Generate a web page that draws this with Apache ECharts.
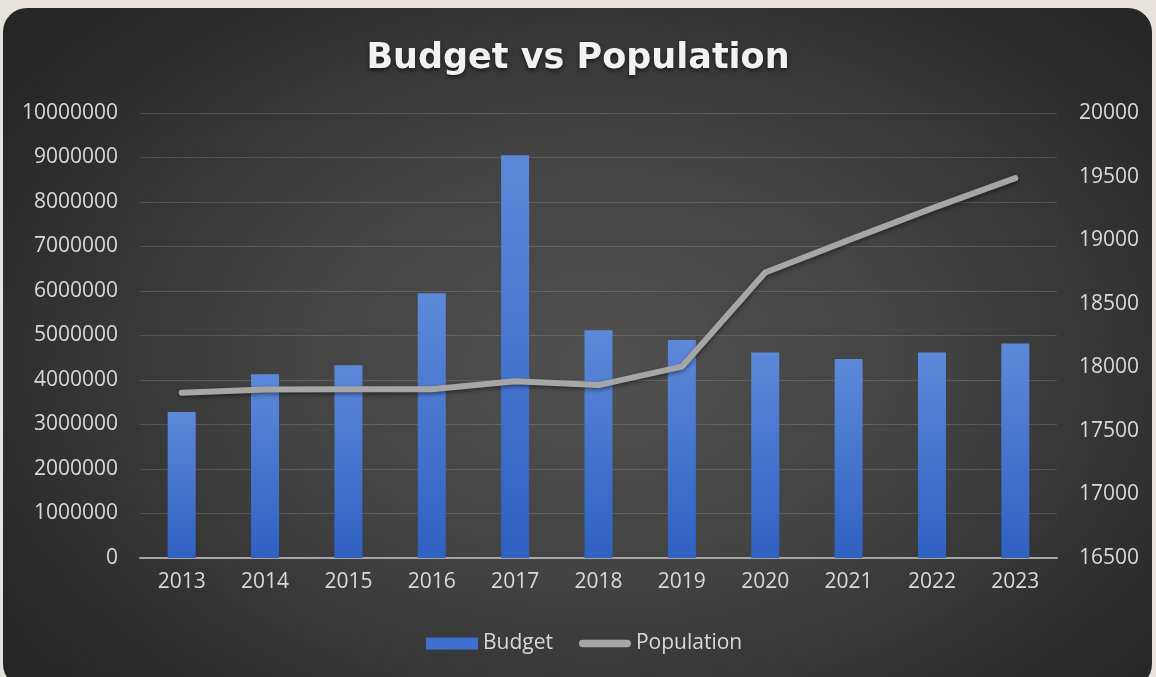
<!DOCTYPE html>
<html>
<head>
<meta charset="utf-8">
<script src="https://cdn.jsdelivr.net/npm/echarts@6/dist/echarts.min.js"></script>
<style>
  html, body { margin: 0; padding: 0; width: 1156px; height: 677px; overflow: hidden; background: #e7e3dc; }
  #card {
    position: absolute; left: 3px; top: 8px; width: 1149px; height: 680px;
    border-radius: 24px;
    background: radial-gradient(ellipse 62% 70% at 52% 52%, #505050 0%, #434343 45%, #2e2e2e 85%, #262626 100%);
  }
  #chart { position: absolute; left: 0; top: 0; width: 1156px; height: 677px; }
</style>
</head>
<body>
<div id="card"></div>
<div id="chart"></div>
<script>
// Yearly budget (left axis) and population (right axis)
const years = ['2013', '2014', '2015', '2016', '2017', '2018', '2019', '2020', '2021', '2022', '2023'];
const budget = [3280000, 4130000, 4330000, 5950000, 9050000, 5120000, 4900000, 4620000, 4470000, 4620000, 4820000];
const population = [17800, 17825, 17828, 17827, 17890, 17860, 18005, 18745, 19000, 19250, 19488];

const labelFont = { color: '#d9d9d9', fontSize: 21, fontFamily: 'Open Sans' };
const plain = v => String(v);

const chart = echarts.init(document.getElementById('chart'), null, { renderer: 'canvas' });
chart.setOption({
  backgroundColor: 'transparent',
  animation: false,
  title: {
    text: 'Budget vs Population',
    left: 'center',
    top: 36,
    textStyle: {
      color: '#f2f2f2', fontSize: 35, fontWeight: 'bold', fontFamily: 'DejaVu Sans',
      textShadowColor: 'rgba(0,0,0,0.6)', textShadowBlur: 4, textShadowOffsetY: 2
    }
  },
  legend: {
    bottom: 23,
    left: 426,
    padding: 0,
    itemGap: 26,
    itemWidth: 52,
    itemHeight: 12,
    textStyle: labelFont,
    data: [
      { name: 'Budget', icon: 'rect', itemStyle: { color: '#3f70d0' } },
      { name: 'Population', icon: 'path://M4,0 H52 A4,4 0 0 1 52,8 H4 A4,4 0 0 1 4,0 Z', itemStyle: { color: '#a6a6a6' } }
    ]
  },
  grid: { left: 140, right: 99, top: 113, bottom: 119, containLabel: false },
  xAxis: {
    type: 'category',
    data: years,
    axisTick: { show: false },
    axisLine: { lineStyle: { color: '#a6a6a6', width: 2 } },
    axisLabel: Object.assign({ margin: 14 }, labelFont)
  },
  yAxis: [
    {
      type: 'value', min: 0, max: 10000000, interval: 1000000,
      axisLine: { show: false }, axisTick: { show: false },
      splitLine: { lineStyle: { color: 'rgba(255,255,255,0.14)', width: 1 } },
      axisLabel: Object.assign({ margin: 22, formatter: plain }, labelFont)
    },
    {
      type: 'value', min: 16500, max: 20000, interval: 500,
      axisLine: { show: false }, axisTick: { show: false },
      splitLine: { show: false },
      axisLabel: Object.assign({ margin: 22, formatter: plain }, labelFont)
    }
  ],
  series: [
    {
      name: 'Budget', type: 'bar', yAxisIndex: 0, data: budget, barWidth: 28,
      itemStyle: {
        color: new echarts.graphic.LinearGradient(0, 0, 0, 1, [
          { offset: 0, color: '#5d89d9' },
          { offset: 1, color: '#2f61c2' }
        ])
      }
    },
    {
      name: 'Population', type: 'line', yAxisIndex: 1, data: population,
      symbol: 'none',
      lineStyle: {
        color: '#a6a6a6', width: 6, cap: 'round', join: 'round',
        shadowColor: 'rgba(0,0,0,0.45)', shadowBlur: 4, shadowOffsetY: 2
      },
      itemStyle: { color: '#a6a6a6' },
      z: 3
    }
  ]
});
</script>
</body>
</html>
